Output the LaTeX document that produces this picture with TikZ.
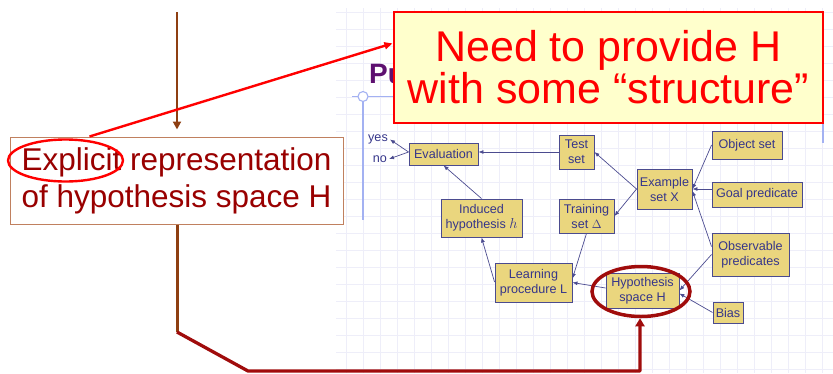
\documentclass[tikz,border=0pt]{standalone}
\usepackage{fontspec}
\setmainfont{Liberation Sans}
\usetikzlibrary{arrows.meta,calc,shapes.geometric}

\definecolor{boxfill}{HTML}{EAD67E}
\definecolor{boxline}{HTML}{4B4B8F}
\definecolor{boxtext}{HTML}{36368A}
\definecolor{gridc}{HTML}{EEEEF9}
\definecolor{slideblue}{HTML}{A3B1F2}
\definecolor{brownline}{HTML}{8E3F12}
\definecolor{darkred}{HTML}{A00C0C}
\definecolor{noteyellow}{HTML}{FFFFCC}
\definecolor{textred}{HTML}{990000}
\definecolor{framebrown}{HTML}{C0805F}
\definecolor{titlepurple}{HTML}{5E1070}
\definecolor{notered}{HTML}{FF0000}

\begin{document}
\begin{tikzpicture}[x=1pt,y=-1pt,
  flow/.style={draw=boxline,fill=boxfill,text=boxtext,inner sep=0pt,align=center,
    font=\fontsize{12.6}{15}\selectfont,line width=0.9pt},
  answer/.style={text=boxtext,inner sep=2pt,font=\fontsize{12.6}{15}\selectfont},
  link/.style={draw=boxline,line width=0.7pt,-{Latex[length=5pt,width=4pt]}},
  ring/.style={ellipse,draw,inner sep=0pt,fill=none}
]
\useasboundingbox (0,0) rectangle (833,373);

% light grid of the slide
\foreach \gx in {346,363,...,829} \draw[gridc,line width=0.8pt] (\gx,8) -- (\gx,373);
\foreach \gy in {12.7,29.7,...,370} \draw[gridc,line width=0.8pt] (336,\gy) -- (833,\gy);

% slide decorations: title fragment, rule with circle, right edge
\node[anchor=base west,inner sep=0pt,text=titlepurple,font=\fontsize{28}{28}\selectfont\bfseries] (title) at (369,83) {Pu};
\draw[slideblue,line width=1.3pt] (352,96.5) -- (394,96.5);
\draw[slideblue,line width=1.8pt] (363,96.5) -- (363,220);
\draw[slideblue,line width=1.1pt,fill=white] (363,96.5) circle (5);
\draw[slideblue,line width=1.3pt] (823,12) -- (823,143);

% learning diagram boxes
\node[flow,minimum width=69pt,minimum height=22pt] (eval) at (443.5,154) {Evaluation};
\node[flow,minimum width=35pt,minimum height=34pt] (test) at (576.5,152) {Test\\set};
\node[flow,minimum width=81pt,minimum height=38pt] (induced) at (481.5,218) {Induced\\hypothesis {\fontsize{15}{15}\selectfont$h$}};
\node[flow,minimum width=55pt,minimum height=34pt] (training) at (586.5,216) {Training\\set $\Delta$};
\node[flow,minimum width=55pt,minimum height=40pt] (example) at (664.5,189) {Example\\set X};
\node[flow,minimum width=70pt,minimum height=28pt] (object) at (747,145) {Object set};
\node[flow,minimum width=90pt,minimum height=25pt] (goal) at (757,194.5) {Goal predicate};
\node[flow,minimum width=77pt,minimum height=43pt] (observable) at (750.5,254.5) {Observable\\predicates};
\node[flow,minimum width=77pt,minimum height=39pt] (learning) at (533.5,282.5) {Learning\\procedure L};
\node[flow,minimum width=73pt,minimum height=35pt] (hypspace) at (642.5,290.5) {Hypothesis\\space H};
\node[flow,minimum width=30pt,minimum height=21pt] (bias) at (728,312.5) {Bias};
\node[answer,anchor=east] (yes) at (390,139.5) {yes};
\node[answer,anchor=east] (no) at (389,159) {no};

% diagram connectors
\draw[link] ($(eval.west)+(0,-2)$) -- (yes.east);
\draw[link] ($(eval.west)+(0,-2)$) -- (no.east);
\draw[link] (test.west) -- (test.west -| eval.east);
\draw[link] (induced.north) -- (eval.south);
\draw[link] (example.west) -- (test.east);
\draw[link] (example.west) -- (training.east);
\draw[link] (object.west) -- (example.east);
\draw[link] (goal.west |- example.east) -- (example.east);
\draw[link] ($(observable.north west)+(0,14)$) -- ($(example.east)+(0,2)$);
\draw[link] (observable.west) -- (hypspace.east);
\draw[link] (bias.west) -- ($(hypspace.east)+(0,3)$);
\draw[link] ($(hypspace.west)+(0,-2.5)$) -- (learning.east);
\draw[link] (training.south) -- ($(learning.east)+(0,-4)$);
\draw[link] ($(learning.west)+(0,-0.5)$) -- (induced.south);

% annotation: explicit representation box
\node[draw=framebrown,fill=white,line width=1pt,minimum width=333pt,minimum height=87pt,
  inner sep=0pt,align=center,text=textred,font=\fontsize{31.5}{37}\selectfont] (explicit) at (176.5,180.5)
  {Explicit representation\\of hypothesis space H};
\node[ring,draw=notered,line width=2.4pt,minimum width=115pt,minimum height=42pt] (ringA) at (65.5,160.5) {};
\node[ring,draw=darkred,line width=3.5pt,minimum width=98pt,minimum height=50pt] (ringB) at (641,291.5) {};

% note box
\node[draw=notered,fill=noteyellow,line width=1.2pt,minimum width=429pt,minimum height=111pt,
  inner sep=0pt,align=center,text=notered,font=\fontsize{43}{42}\selectfont] (note) at (608.5,67.5)
  {Need to provide H\\with some “structure”};

% annotation arrows
\coordinate (topin) at (177,12);
\coordinate (bendA) at (177,332);
\coordinate (bendB) at (248,371);
\coordinate (bendC) at (640,371);
\draw[brownline,line width=2.2pt,-{Triangle[length=8pt,width=8pt]}] (topin) -- ($(explicit.north)+(0.5,-7)$);
\draw[notered,line width=2.4pt,-{Triangle[length=8pt,width=7pt]}] ($(explicit.north west)+(80,0)$) -- ($(note.north west)+(-1,32)$);
\draw[brownline,line width=3pt] (explicit.south -| topin) -- (bendA);
\draw[darkred,line width=3.3pt,line join=round,-{Triangle[length=8pt,width=9pt]}] (bendA) -- (bendB) -- (bendC) -- (ringB.south -| bendC);
\end{tikzpicture}
\end{document}
